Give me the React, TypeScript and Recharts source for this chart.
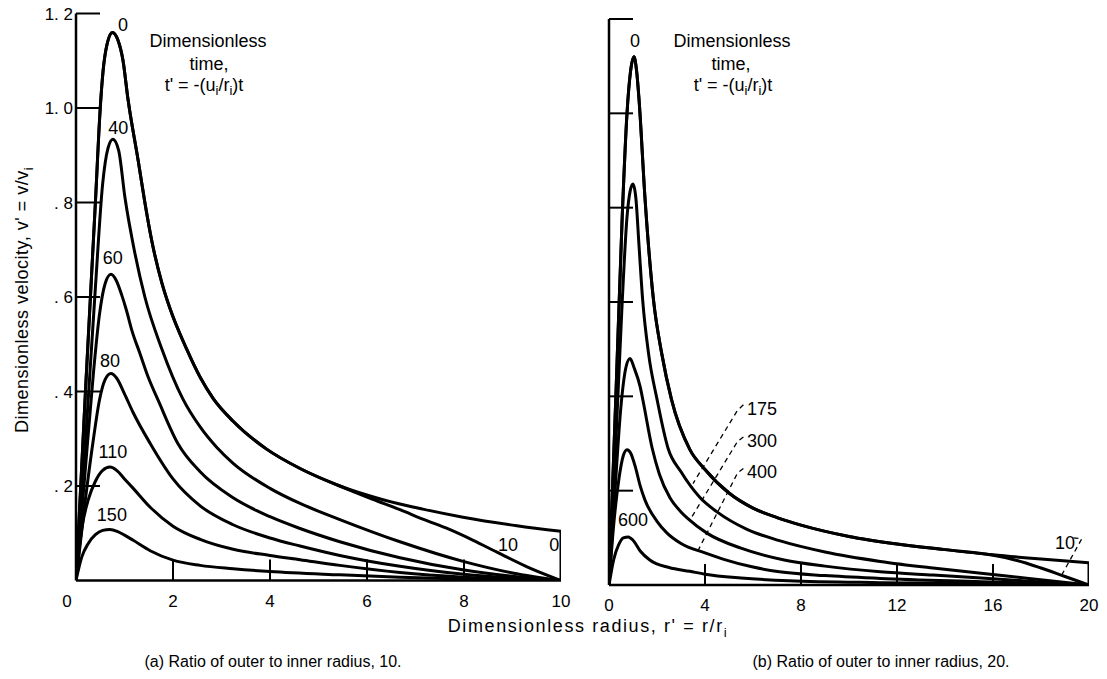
import React from 'react';
import { LineChart, Line, XAxis, YAxis, ReferenceDot } from 'recharts';

type Pt = [number, number];

const FONT = "'Liberation Sans', Arial, sans-serif";

// ---------- axis ticks ----------
const leftXTicks = [0, 2, 4, 6, 8, 10];
const rightXTicks = [0, 4, 8, 12, 16, 20];
const yTicks = [0.2, 0.4, 0.6, 0.8, 1.0, 1.2];
const yTickLabels = ['. 2', '. 4', '. 6', '. 8', '1. 0', '1. 2'];

// ---------- panel (a): ratio 10 ----------
const leftT0: Pt[] = [[0, 0], [0.2, 0.41], [0.4, 0.8], [0.5, 1.0], [0.56, 1.08], [0.64, 1.135], [0.75, 1.16], [0.86, 1.145], [0.97, 1.1], [1.07, 1.02], [1.28, 0.89], [1.42, 0.8], [1.56, 0.72], [1.77, 0.63], [1.94, 0.575], [2.28, 0.49], [2.56, 0.43], [2.83, 0.385], [3.24, 0.337], [3.93, 0.278], [4.62, 0.237], [5.44, 0.2], [6.33, 0.171], [7.15, 0.151], [7.98, 0.134], [9.09, 0.116], [10, 0.104]];
const leftT0Edge: Pt[] = [[10, 0.104], [10, 0]];
const leftT10: Pt[] = [[0, 0], [0.2, 0.41], [0.4, 0.8], [0.5, 1.0], [0.56, 1.08], [0.64, 1.135], [0.75, 1.16], [0.86, 1.145], [0.97, 1.1], [1.07, 1.02], [1.28, 0.89], [1.42, 0.8], [1.56, 0.72], [1.77, 0.63], [1.94, 0.575], [2.28, 0.49], [2.56, 0.43], [2.83, 0.385], [3.24, 0.337], [3.93, 0.278], [4.62, 0.237], [5.44, 0.2], [6.12, 0.172], [6.68, 0.15], [7.15, 0.13], [7.7, 0.108], [8.19, 0.085], [8.68, 0.06], [9.3, 0.029], [10, 0]];
const leftT40: Pt[] = [[0, 0], [0.2, 0.3], [0.4, 0.62], [0.55, 0.84], [0.66, 0.915], [0.76, 0.934], [0.88, 0.91], [1.01, 0.81], [1.2, 0.7], [1.42, 0.6], [1.77, 0.49], [2.2, 0.385], [2.56, 0.325], [2.9, 0.282], [3.24, 0.248], [4.0, 0.195], [4.62, 0.163], [5.44, 0.129], [6.68, 0.082], [8, 0.04], [9, 0.016], [10, 0]];
const leftT60: Pt[] = [[0, 0], [0.18, 0.22], [0.36, 0.44], [0.48, 0.56], [0.6, 0.628], [0.72, 0.648], [0.83, 0.635], [0.94, 0.605], [1.04, 0.572], [1.15, 0.53], [1.32, 0.48], [1.49, 0.43], [1.7, 0.38], [2.1, 0.29], [2.56, 0.23], [3.24, 0.175], [4.0, 0.135], [4.62, 0.11], [5.44, 0.082], [6.68, 0.048], [8, 0.022], [9, 0.009], [10, 0]];
const leftT80: Pt[] = [[0, 0], [0.18, 0.16], [0.36, 0.3], [0.48, 0.38], [0.6, 0.425], [0.72, 0.438], [0.84, 0.428], [1.0, 0.395], [1.18, 0.355], [1.53, 0.29], [2.0, 0.215], [2.56, 0.158], [3.24, 0.118], [4.0, 0.09], [4.62, 0.073], [5.44, 0.053], [6.68, 0.03], [8, 0.013], [10, 0]];
const leftT110: Pt[] = [[0, 0], [0.12, 0.11], [0.25, 0.17], [0.4, 0.21], [0.55, 0.233], [0.7, 0.24], [0.85, 0.232], [1.0, 0.215], [1.18, 0.195], [1.53, 0.155], [2.0, 0.115], [2.56, 0.087], [3.24, 0.066], [4.0, 0.053], [4.62, 0.044], [5.44, 0.032], [6.68, 0.017], [8, 0.007], [10, 0]];
const leftT150: Pt[] = [[0, 0], [0.12, 0.05], [0.25, 0.078], [0.4, 0.097], [0.55, 0.106], [0.7, 0.108], [0.85, 0.104], [1.0, 0.096], [1.18, 0.085], [1.53, 0.063], [2.0, 0.043], [2.56, 0.032], [3.24, 0.025], [4.0, 0.019], [5.44, 0.012], [6.68, 0.007], [8, 0.003], [10, 0]];

// ---------- panel (b): ratio 20 ----------
const rightT0: Pt[] = [[0, 0], [0.3, 0.42], [0.55, 0.78], [0.75, 1.0], [0.9, 1.09], [1.04, 1.12], [1.15, 1.09], [1.25, 1.03], [1.5, 0.82], [1.85, 0.606], [2.2, 0.49], [2.6, 0.394], [3.37, 0.287], [4.0, 0.245], [5.0, 0.195], [6.0, 0.163], [7.0, 0.143], [8.0, 0.127], [10.0, 0.103], [12.0, 0.087], [14.0, 0.075], [16.0, 0.064], [18.0, 0.055], [20, 0.047]];
const rightT0Edge: Pt[] = [[20, 0.047], [20, 0]];
const rightT10: Pt[] = [[0, 0], [0.3, 0.42], [0.55, 0.78], [0.75, 1.0], [0.9, 1.09], [1.04, 1.12], [1.15, 1.09], [1.25, 1.03], [1.5, 0.82], [1.85, 0.606], [2.2, 0.49], [2.6, 0.394], [3.37, 0.287], [4.0, 0.245], [5.0, 0.195], [6.0, 0.163], [7.0, 0.143], [8.0, 0.127], [10.0, 0.103], [12.0, 0.087], [14.0, 0.075], [16.0, 0.063], [17.0, 0.052], [18.0, 0.036], [19.0, 0.018], [20, 0]];
const rightT175: Pt[] = [[0, 0], [0.3, 0.32], [0.55, 0.6], [0.75, 0.78], [0.88, 0.835], [1.0, 0.85], [1.12, 0.82], [1.25, 0.72], [1.4, 0.606], [1.65, 0.49], [2.0, 0.394], [2.46, 0.29], [3.0, 0.24], [3.8, 0.185], [4.5, 0.155], [5.75, 0.118], [7.1, 0.094], [9.0, 0.07], [11.3, 0.05], [13.5, 0.036], [15.5, 0.025], [17.5, 0.014], [20, 0]];
const rightT300: Pt[] = [[0, 0], [0.25, 0.2], [0.5, 0.38], [0.7, 0.46], [0.875, 0.48], [1.05, 0.46], [1.3, 0.42], [1.42, 0.39], [1.8, 0.29], [2.1, 0.235], [2.54, 0.185], [3.0, 0.155], [3.3, 0.14], [4.08, 0.11], [5.5, 0.078], [7.3, 0.053], [9.0, 0.04], [11.3, 0.028], [13.5, 0.021], [15.5, 0.015], [17.5, 0.008], [20, 0]];
const rightT400: Pt[] = [[0, 0], [0.2, 0.13], [0.4, 0.22], [0.6, 0.275], [0.75, 0.287], [0.9, 0.28], [1.1, 0.25], [1.3, 0.21], [1.5, 0.18], [2.0, 0.135], [2.42, 0.11], [3.0, 0.088], [4.0, 0.068], [4.75, 0.055], [6.0, 0.038], [7.1, 0.028], [9.0, 0.02], [11.3, 0.014], [15.5, 0.007], [20, 0]];
const rightT600: Pt[] = [[0, 0], [0.2, 0.055], [0.4, 0.085], [0.6, 0.1], [0.8, 0.102], [1.0, 0.095], [1.3, 0.072], [1.7, 0.053], [2.5, 0.037], [3.37, 0.029], [4.0, 0.023], [5.5, 0.015], [7.5, 0.009], [11.3, 0.005], [15, 0.003], [20, 0]];

// dashed leader lines (panel b)
const leader175: Pt[] = [[5.6, 0.382], [5.35, 0.37], [3.5, 0.215]];
const leader300: Pt[] = [[5.6, 0.314], [5.35, 0.304], [3.375, 0.138]];
const leader400: Pt[] = [[5.6, 0.247], [5.35, 0.237], [3.72, 0.074]];
const leader10: Pt[] = [[19.35, 0.1], [19.7, 0.098], [18.86, 0.021]];

// curve labels
const leftLabelText = ['0', '40', '60', '80', '110', '150', '10', '0'];
const leftLabelR = [0.97, 0.87, 0.76, 0.70, 0.76, 0.74, 8.91, 9.86];
const leftLabelV = [1.176, 0.958, 0.683, 0.466, 0.272, 0.139, 0.076, 0.076];
const rightLabelText = ['0', '175', '300', '400', '600', '10'];
const rightLabelR = [1.08, 5.75, 5.75, 5.75, 1.0, 19.0];
const rightLabelV = [1.155, 0.375, 0.307, 0.24, 0.138, 0.091];
const rightLabelAnchor = ['middle', 'start', 'start', 'start', 'middle', 'middle'];

const toData = (pts: Pt[]) => pts.map(([r, v]) => ({ r, v }));

const X_MARGIN = 26;
const Y_MARGIN = 2;

const makeXTick = (lineTicks: number[], zeroShift: number) => (props: any) => {
  const { x, y, payload } = props;
  const val = payload.value as number;
  const axisY = y - X_MARGIN;
  return (
    <g>
      {lineTicks.includes(val) && (
        <line x1={x} x2={x} y1={axisY} y2={axisY - 21} stroke="#000" strokeWidth={2} />
      )}
      <text x={x + (val === 0 ? zeroShift : 0)} y={y} textAnchor="middle" fontSize={17} fontFamily={FONT} fill="#000">
        {String(val)}
      </text>
    </g>
  );
};

const makeYTick = (showLabel: boolean) => (props: any) => {
  const { x, y, payload } = props;
  const val = payload.value as number;
  const axisX = x + Y_MARGIN;
  const idx = yTicks.findIndex((t) => Math.abs(t - val) < 1e-6);
  return (
    <g>
      <line x1={axisX} x2={axisX + 24} y1={y} y2={y} stroke="#000" strokeWidth={2} />
      {showLabel && idx >= 0 && (
        <text x={x - 1} y={y + 6} textAnchor="end" fontSize={17} fontFamily={FONT} fill="#000">
          {yTickLabels[idx]}
        </text>
      )}
    </g>
  );
};

const curveLabel = (text: string, anchor: string) => (props: any) => {
  const vb = props.viewBox || {};
  const cx = (vb.x ?? 0) + (vb.width ?? 0) / 2;
  const cy = (vb.y ?? 0) + (vb.height ?? 0) / 2;
  return (
    <text x={cx} y={cy} dy="0.36em" textAnchor={anchor as any} fontSize={18} fontFamily={FONT} fill="#000">
      {text}
    </text>
  );
};

const curve = (key: string, pts: Pt[], type: any = 'monotone', dashed = false, width = 3) => (
  <Line
    key={key}
    data={toData(pts)}
    dataKey="v"
    type={type}
    stroke="#000"
    strokeWidth={width}
    strokeDasharray={dashed ? '5 4' : undefined}
    dot={false}
    activeDot={false}
    isAnimationActive={false}
    legendType="none"
  />
);

const txt = { fontFamily: FONT, fill: '#000' } as const;

export default function App() {
  return (
    <div style={{ position: 'absolute', left: 0, top: 0, width: 1107, height: 679, background: '#fff' }}>
      <div style={{ position: 'absolute', left: 0, top: 0 }}>
        <LineChart width={600} height={679} margin={{ top: 13.5, right: 39, bottom: 0, left: 0 }}>
          <XAxis
            type="number"
            dataKey="r"
            domain={[0, 10]}
            ticks={leftXTicks}
            height={98.5}
            tickSize={0}
            tickMargin={X_MARGIN}
            tickLine={false}
            axisLine={{ stroke: '#000', strokeWidth: 2.5 }}
            tick={makeXTick([2, 4, 6, 8], -9)}
            interval={0}
            allowDataOverflow
          />
          <YAxis
            type="number"
            domain={[0, 1.2]}
            ticks={yTicks}
            width={76}
            tickSize={0}
            tickMargin={Y_MARGIN}
            tickLine={false}
            axisLine={{ stroke: '#000', strokeWidth: 2.5 }}
            tick={makeYTick(true)}
            interval={0}
            allowDataOverflow
          />
          {curve('l0', leftT0)}
          {curve('l0e', leftT0Edge, 'linear')}
          {curve('l10', leftT10)}
          {curve('l40', leftT40)}
          {curve('l60', leftT60)}
          {curve('l80', leftT80)}
          {curve('l110', leftT110)}
          {curve('l150', leftT150)}
          {leftLabelText.map((t, i) => (
            <ReferenceDot key={'ll' + i} x={leftLabelR[i]} y={leftLabelV[i]} r={1} fill="none" stroke="none" label={curveLabel(t, 'middle')} />
          ))}
        </LineChart>
      </div>
      <div style={{ position: 'absolute', left: 600, top: 0 }}>
        <LineChart width={507} height={679} margin={{ top: 19, right: 18, bottom: 0, left: 0 }}>
          <XAxis
            type="number"
            dataKey="r"
            domain={[0, 20]}
            ticks={rightXTicks}
            height={94}
            tickSize={0}
            tickMargin={X_MARGIN}
            tickLine={false}
            axisLine={{ stroke: '#000', strokeWidth: 2.5 }}
            tick={makeXTick([4, 8, 12, 16], 0)}
            interval={0}
            allowDataOverflow
          />
          <YAxis
            type="number"
            domain={[0, 1.2]}
            ticks={yTicks}
            width={9}
            tickSize={0}
            tickMargin={Y_MARGIN}
            tickLine={false}
            axisLine={{ stroke: '#000', strokeWidth: 2.5 }}
            tick={makeYTick(false)}
            interval={0}
            allowDataOverflow
          />
          {curve('r0', rightT0)}
          {curve('r0e', rightT0Edge, 'linear')}
          {curve('r10', rightT10)}
          {curve('r175', rightT175)}
          {curve('r300', rightT300)}
          {curve('r400', rightT400)}
          {curve('r600', rightT600)}
          {curve('d175', leader175, 'linear', true, 1.3)}
          {curve('d300', leader300, 'linear', true, 1.3)}
          {curve('d400', leader400, 'linear', true, 1.3)}
          {curve('d10', leader10, 'linear', true, 1.3)}
          {rightLabelText.map((t, i) => (
            <ReferenceDot key={'rl' + i} x={rightLabelR[i]} y={rightLabelV[i]} r={1} fill="none" stroke="none" label={curveLabel(t, rightLabelAnchor[i])} />
          ))}
        </LineChart>
      </div>
      <svg width={1107} height={679} style={{ position: 'absolute', left: 0, top: 0, pointerEvents: 'none' }}>
        <text transform="translate(28,300) rotate(-90)" textAnchor="middle" fontSize={18} letterSpacing={0.5} {...txt}>
          Dimensionless velocity, v' = v/v<tspan dy={5} fontSize={13}>i</tspan>
        </text>
        <text x={588} y={632} textAnchor="middle" fontSize={18} letterSpacing={1.6} {...txt}>
          Dimensionless radius, r' = r/r<tspan dy={5} fontSize={13}>i</tspan>
        </text>
        <text x={273} y={667} textAnchor="middle" fontSize={16} letterSpacing={0} {...txt}>
          (a) Ratio of outer to inner radius, 10.
        </text>
        <text x={881} y={667} textAnchor="middle" fontSize={16} letterSpacing={0} {...txt}>
          (b) Ratio of outer to inner radius, 20.
        </text>
        <text x={208} y={47} textAnchor="middle" fontSize={18} {...txt}>Dimensionless</text>
        <text x={209} y={70} textAnchor="middle" fontSize={18} {...txt}>time,</text>
        <text x={204} y={91} textAnchor="middle" fontSize={18} {...txt}>
          t' = -(u<tspan dy={4} fontSize={13}>i</tspan><tspan dy={-4}>/r</tspan><tspan dy={4} fontSize={13}>i</tspan><tspan dy={-4}>)t</tspan>
        </text>
        <text x={732} y={47} textAnchor="middle" fontSize={18} {...txt}>Dimensionless</text>
        <text x={731} y={70} textAnchor="middle" fontSize={18} {...txt}>time,</text>
        <text x={733} y={91} textAnchor="middle" fontSize={18} {...txt}>
          t' = -(u<tspan dy={4} fontSize={13}>i</tspan><tspan dy={-4}>/r</tspan><tspan dy={4} fontSize={13}>i</tspan><tspan dy={-4}>)t</tspan>
        </text>
      </svg>
    </div>
  );
}
